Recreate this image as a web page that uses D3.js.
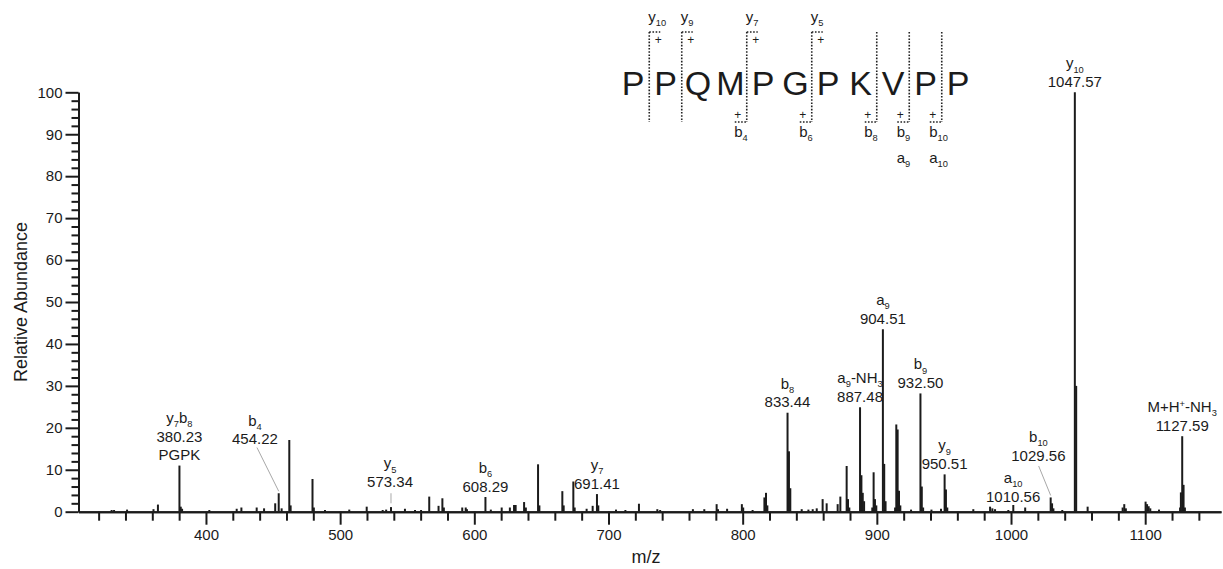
<!DOCTYPE html>
<html>
<head>
<meta charset="utf-8">
<script src="https://cdn.jsdelivr.net/npm/d3@7"></script>
<style>
  html, body { margin: 0; padding: 0; background: #fff; }
  svg { display: block; font-family: "Liberation Sans", Arial, Helvetica, sans-serif; }
</style>
</head>
<body>
<svg id="chart" width="1223" height="569"></svg>
<script>
// ---- MS/MS spectrum of PPQMPGPKVPP: peak m/z and relative abundance (%) ----
const peakMz = [
  329.7, 331.5, 341.2, 360.9, 364.2, 380.23, 381.2, 382.2,
  402.5, 422.9, 426.4, 437.8, 443.3, 451.6, 454.22, 456.4, 462.1, 463.1, 479.4, 480.4, 488.7,
  506.8, 519.8, 531.7, 534.3, 537.9, 548.3, 555.8, 560.3, 566.4, 573.34, 576.2, 577.3, 591.0, 593.6, 594.5,
  608.29, 612.3, 620.4, 626.5, 629.6, 630.8, 637.1, 638.4, 647.5, 648.5, 665.6, 666.6, 673.8, 674.8,
  683.7, 688.2, 691.41, 692.4,
  705.6, 712.6, 722.7, 736.4, 738.5, 762.9, 771.4, 780.6, 781.6, 788.4, 799.4, 800.4, 807.4,
  816.2, 817.4, 818.4, 833.44, 834.5, 835.5, 844.0, 849.0, 852.2, 855.2, 859.6, 862.6, 870.8, 872.8,
  877.5, 878.5, 879.5, 887.48, 888.5, 889.5, 890.5, 896.6, 897.6, 898.6, 899.6, 904.51, 905.5, 906.5,
  913.6, 914.5, 915.5, 916.5, 917.5, 925.5, 932.50, 933.5, 934.5, 940.7, 947.8, 950.51, 951.5, 952.5,
  971.9, 984.4, 986.1, 988.1, 998.0, 1001.7, 1010.56, 1029.56, 1030.6, 1031.6, 1038.2, 1047.57, 1048.57,
  1057.1, 1083.2, 1084.4, 1085.6, 1100.3, 1101.4, 1102.6, 1103.8, 1110.3,
  1126.0, 1126.6, 1127.59, 1128.6, 1129.6
];
const peakAbundance = [
  0.4, 0.4, 0.5, 0.6, 1.7, 11.0, 1.2, 0.7,
  0.4, 0.7, 1.0, 1.0, 0.8, 2.0, 4.4, 0.8, 17.1, 1.5, 7.8, 1.0, 0.4,
  0.5, 1.2, 0.4, 0.5, 1.1, 0.7, 0.4, 0.4, 3.6, 1.4, 3.2, 1.0, 1.0, 1.0, 0.6,
  3.5, 0.5, 1.0, 1.0, 1.6, 1.6, 2.3, 1.0, 11.3, 1.5, 4.9, 1.5, 7.2, 1.0,
  0.7, 1.4, 4.2, 1.5,
  0.5, 0.4, 1.9, 0.6, 0.4, 0.6, 0.6, 1.8, 0.6, 0.7, 1.8, 1.0, 0.4,
  3.4, 4.5, 1.5, 23.6, 14.4, 5.6, 0.6, 0.5, 0.6, 0.8, 3.0, 2.0, 1.8, 3.6,
  10.9, 3.0, 1.0, 24.9, 8.7, 4.5, 2.5, 1.0, 9.4, 3.0, 1.5, 43.5, 11.4, 2.5,
  1.0, 20.8, 19.6, 5.0, 1.5, 0.5, 28.2, 6.0, 1.0, 0.5, 0.7, 8.9, 5.3, 1.0,
  0.6, 1.2, 0.8, 0.6, 0.4, 1.6, 1.0, 3.4, 2.0, 0.8, 0.4, 100, 30.0,
  1.2, 1.0, 1.8, 0.8, 2.4, 1.8, 1.3, 0.8, 0.5,
  1.0, 4.6, 18.0, 6.4, 1.0
];

// Axis ticks
const xTickValues = [400, 500, 600, 700, 800, 900, 1000, 1100];
const yTickValues = [0, 10, 20, 30, 40, 50, 60, 70, 80, 90, 100];

// Annotated fragment ions (sub-/superscripts written as _{..} and ^{..})
const ionNames = ["y_{7}b_{8}", "b_{4}", "y_{5}", "b_{6}", "y_{7}", "b_{8}", "a_{9}-NH_{3}",
                  "a_{9}", "b_{9}", "y_{9}", "a_{10}", "b_{10}", "y_{10}", "M+H^{+}-NH_{3}"];
const ionMz = [380.23, 454.22, 573.34, 608.29, 691.41, 833.44, 887.48,
               904.51, 932.50, 950.51, 1010.56, 1029.56, 1047.57, 1127.59];
const ionNotes = ["PGPK", "", "", "", "", "", "", "", "", "", "", "", "", ""];

// Peptide sequence and the cleavage sites (index of the residue before the cut)
const sequence = ["P", "P", "Q", "M", "P", "G", "P", "K", "V", "P", "P"];
const yIonSites = [0, 1, 3, 5];
const yIonLabels = ["y_{10}", "y_{9}", "y_{7}", "y_{5}"];
const bIonSites = [3, 5, 7, 8, 9];
const bIonLabels = ["b_{4}", "b_{6}", "b_{8}", "b_{9}", "b_{10}"];
const aIonSites = [8, 9];
const aIonLabels = ["a_{9}", "a_{10}"];

// Label blocks that sit away from their peak (label centre m/z, baseline abundance, leader start/end)
const labelLayout = {
  "454.22":  { at: 436.5, base: 16.1, from: [438.0, 15.3] },
  "573.34":  { at: 537.2, base: 5.9, from: [537.9, 4.4], to: [537.9, 2.0] },
  "1010.56": { at: 1001.6, base: 2.4 },
  "1029.56": { at: 1020.4, base: 12.2, from: [1020.6, 10.9] }
};

// ---- drawing ----
const ink = "#1b1b1b";
const svg = d3.select("#chart");
const x = d3.scaleLinear().domain([305, 1156.5]).range([78.5, 1221]);
const y = d3.scaleLinear().domain([0, 100]).range([511.7, 92.3]);

// Writes "a_{9}-NH_{3}" style strings as tspans with sub/superscripts
function richText(textSel, str, size) {
  const re = /_\{([^}]*)\}|\^\{([^}]*)\}|([^_^]+)/g;
  let m, cur = 0;
  while ((m = re.exec(str)) !== null) {
    let t, shift, fs;
    if (m[1] !== undefined) { t = m[1]; shift = size * 0.28; fs = size * 0.62; }
    else if (m[2] !== undefined) { t = m[2]; shift = -size * 0.36; fs = size * 0.62; }
    else { t = m[3]; shift = 0; fs = size; }
    textSel.append("tspan").attr("dy", shift - cur).attr("font-size", fs).text(t);
    cur = shift;
  }
}

// Peaks
svg.append("g").attr("class", "peaks")
  .selectAll("line").data(d3.range(peakMz.length)).join("line")
  .attr("x1", i => x(peakMz[i])).attr("x2", i => x(peakMz[i]))
  .attr("y1", y(0)).attr("y2", i => y(peakAbundance[i]))
  .attr("stroke", ink).attr("stroke-width", 2);

// X axis: minor ticks every 20, labelled ticks every 100
const xMinor = d3.range(320, 1157, 20).filter(v => v % 100 !== 0);
const gxMinor = svg.append("g").attr("transform", `translate(0,${y(0)})`)
  .call(d3.axisBottom(x).tickValues(xMinor).tickSize(9).tickSizeOuter(0).tickFormat(""));
const gx = svg.append("g").attr("transform", `translate(0,${y(0)})`)
  .call(d3.axisBottom(x).tickValues(xTickValues).tickSize(13).tickSizeOuter(0)
    .tickPadding(5).tickFormat(d3.format("d")));

// Y axis: minor ticks every 2, labelled ticks every 10
const yMinor = d3.range(0, 101, 2).filter(v => v % 10 !== 0);
const gyMinor = svg.append("g").attr("transform", `translate(${x(305)},0)`)
  .call(d3.axisLeft(y).tickValues(yMinor).tickSize(7).tickSizeOuter(0).tickFormat(""));
const gy = svg.append("g").attr("transform", `translate(${x(305)},0)`)
  .call(d3.axisLeft(y).tickValues(yTickValues).tickSize(13).tickSizeOuter(0)
    .tickPadding(3).tickFormat(d3.format("d")));

[gxMinor, gx, gyMinor, gy].forEach(g => {
  g.attr("font-family", null).attr("font-size", 15);
  g.selectAll("path").attr("stroke", ink).attr("stroke-width", 2);
  g.selectAll("line").attr("stroke", ink).attr("stroke-width", 2);
  g.selectAll("text").attr("fill", ink);
});

// Axis titles
svg.append("text").attr("x", 646).attr("y", 563).attr("text-anchor", "middle")
  .attr("font-size", 18).attr("fill", ink).text("m/z");
svg.append("text").attr("transform", "translate(26.5,302) rotate(-90)")
  .attr("text-anchor", "middle").attr("font-size", 18).attr("fill", ink).text("Relative Abundance");

// Fragment ion labels
const lineGap = 18.5;
const annoG = svg.append("g").attr("class", "annotations");
ionMz.forEach((mz, i) => {
  const pi = peakMz.indexOf(mz);
  const ab = peakAbundance[pi];
  const lay = labelLayout[mz.toFixed(2)] || {};
  const cx = x(lay.at !== undefined ? lay.at : mz);
  const bottom = lay.base !== undefined ? y(lay.base) : y(ab) - 5.5;
  const lines = [ionNames[i], mz.toFixed(2)];
  if (ionNotes[i]) lines.push(ionNotes[i]);
  lines.forEach((str, k) => {
    const t = annoG.append("text").attr("x", cx)
      .attr("y", bottom - (lines.length - 1 - k) * lineGap)
      .attr("text-anchor", "middle").attr("font-size", 15).attr("fill", ink);
    if (k === 0) richText(t, str, 15); else t.text(str);
  });
  if (lay.from) {
    const to = lay.to || [mz, ab];
    annoG.append("line")
      .attr("x1", x(lay.from[0])).attr("y1", y(lay.from[1]))
      .attr("x2", x(to[0])).attr("y2", lay.to ? y(to[1]) : y(to[1]) - 2)
      .attr("stroke", "#a8a8a8").attr("stroke-width", 1);
  }
});

// Peptide sequence with cleavage brackets
const seqX = d3.scalePoint().domain(d3.range(sequence.length)).range([633, 958]);
const cutX = i => (seqX(i) + seqX(i + 1)) / 2;
const seqG = svg.append("g").attr("class", "sequence");
seqG.selectAll("text.res").data(sequence).join("text").attr("class", "res")
  .attr("x", (d, i) => seqX(i)).attr("y", 95).attr("text-anchor", "middle")
  .attr("font-size", 34).attr("fill", ink).text(d => d);

const dotted = sel => sel.attr("stroke", "#222").attr("stroke-width", 1.6).attr("stroke-dasharray", "1.6,1.6");
const topY = 32, botY = 122;
const sites = Array.from(new Set([...yIonSites, ...bIonSites]));
sites.forEach(s => {
  seqG.append("line").attr("x1", cutX(s)).attr("x2", cutX(s)).attr("y1", topY).attr("y2", botY).call(dotted);
});
yIonSites.forEach((s, i) => {
  const cx = cutX(s);
  seqG.append("line").attr("x1", cx).attr("x2", cx + 11).attr("y1", topY).attr("y2", topY).call(dotted);
  seqG.append("text").attr("x", cx + 9).attr("y", 44).attr("text-anchor", "middle")
    .attr("font-size", 12).attr("fill", ink).text("+");
  richText(seqG.append("text").attr("x", cx - 1).attr("y", 22).attr("fill", ink), yIonLabels[i], 15);
});
bIonSites.forEach((s, i) => {
  const cx = cutX(s);
  seqG.append("line").attr("x1", cx - 12).attr("x2", cx).attr("y1", botY).attr("y2", botY).call(dotted);
  seqG.append("text").attr("x", cx - 9).attr("y", 119).attr("text-anchor", "middle")
    .attr("font-size", 12).attr("fill", ink).text("+");
  richText(seqG.append("text").attr("x", cx - 12.5).attr("y", 137).attr("fill", ink), bIonLabels[i], 15);
});
aIonSites.forEach((s, i) => {
  const cx = cutX(s);
  richText(seqG.append("text").attr("x", cx - 12.5).attr("y", 163).attr("fill", ink), aIonLabels[i], 15);
});
</script>
</body>
</html>
